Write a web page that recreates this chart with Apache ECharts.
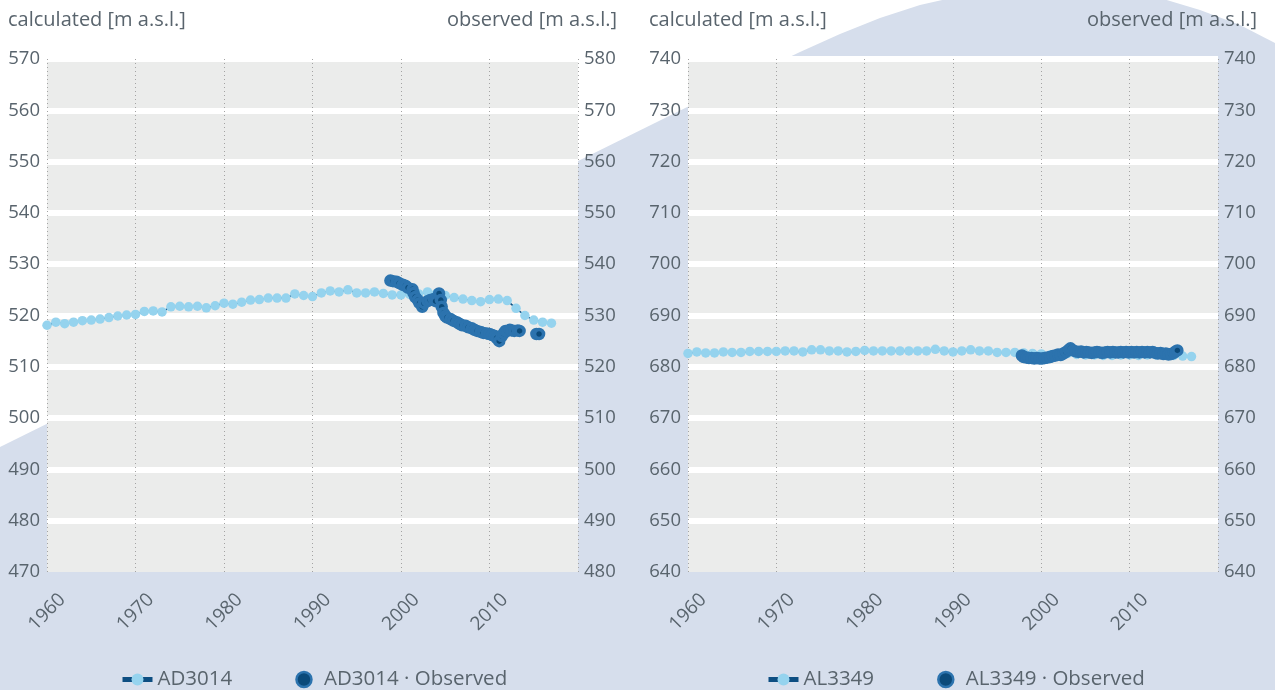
<!DOCTYPE html>
<html>
<head>
<meta charset="utf-8">
<script src="https://cdn.jsdelivr.net/npm/echarts@6/dist/echarts.min.js"></script>
<style>
  html, body { margin: 0; padding: 0; background: #ffffff; }
  #chart { width: 1275px; height: 690px; }
</style>
</head>
<body>
<div id="chart"></div>
<script>
// ---- data -------------------------------------------------------------
const yearTicks = [1960, 1970, 1980, 1990, 2000, 2010, 2020];

const calcYears = [
  1960, 1961, 1962, 1963, 1964, 1965, 1966, 1967, 1968, 1969,
  1970, 1971, 1972, 1973, 1974, 1975, 1976, 1977, 1978, 1979,
  1980, 1981, 1982, 1983, 1984, 1985, 1986, 1987, 1988, 1989,
  1990, 1991, 1992, 1993, 1994, 1995, 1996, 1997, 1998, 1999,
  2000, 2001, 2002, 2003, 2004, 2005, 2006, 2007, 2008, 2009,
  2010, 2011, 2012, 2013, 2014, 2015, 2016, 2017
];

// AD3014 – calculated head (left axis)
const ad3014Calc = [
  518.1, 518.7, 518.4, 518.7, 519.0, 519.1, 519.3, 519.6, 519.9, 520.1,
  520.2, 520.8, 520.9, 520.7, 521.7, 521.8, 521.7, 521.8, 521.5, 521.9,
  522.4, 522.2, 522.6, 523.0, 523.1, 523.4, 523.4, 523.4, 524.2, 523.9,
  523.7, 524.4, 524.8, 524.6, 525.0, 524.4, 524.4, 524.6, 524.3, 524.0,
  524.0, 524.1, 524.2, 524.6, 524.3, 523.9, 523.5, 523.2, 522.9, 522.7,
  523.1, 523.2, 522.9, 521.4, 520.0, 519.1, 518.7, 518.5
];

// AD3014 – observed head (right axis)
const ad3014ObsYears = [
  1998.8, 1999.1, 1999.5, 1999.8, 2000.2, 2000.5, 2000.8, 2001.3, 2001.4, 2001.6,
  2001.9, 2002.1, 2002.4, 2002.6, 2003.0, 2003.3, 2003.7, 2003.9, 2004.3, 2004.5,
  2004.6, 2004.8, 2005.0, 2005.2, 2005.6, 2005.9, 2006.3, 2006.6, 2006.9, 2007.3,
  2007.6, 2008.0, 2008.3, 2008.6, 2009.0, 2009.3, 2009.7, 2010.0, 2010.3, 2010.6,
  2010.8, 2011.1, 2011.4, 2011.6, 2011.8, 2012.0, 2012.3, 2012.5, 2012.8, 2013.2,
  2013.4, 2015.3, 2015.6
];
const ad3014Obs = [
  536.8, 536.7, 536.6, 536.3, 536.0, 535.8, 535.4, 535.1, 534.4, 533.6,
  533.0, 532.4, 531.7, 532.4, 532.8, 533.0, 533.2, 532.8, 534.3, 533.0,
  531.7, 530.5, 529.9, 529.6, 529.3, 529.0, 528.7, 528.4, 528.1, 528.0,
  527.7, 527.5, 527.2, 527.0, 526.8, 526.6, 526.5, 526.4, 526.2, 526.0,
  525.6, 525.0, 526.0, 526.5, 527.0, 527.0, 527.2, 527.1, 527.0, 527.1,
  527.0, 526.4, 526.4
];

// AL3349 – calculated head (left axis)
const al3349Calc = [
  682.6, 682.9, 682.7, 682.7, 682.9, 682.8, 682.8, 683.0, 683.0, 683.0,
  683.0, 683.1, 683.1, 682.9, 683.3, 683.3, 683.1, 683.1, 682.9, 683.0,
  683.2, 683.1, 683.1, 683.1, 683.1, 683.1, 683.1, 683.1, 683.4, 683.1,
  682.9, 683.1, 683.3, 683.1, 683.1, 682.8, 682.8, 682.8, 682.7, 682.6,
  682.5, 682.3, 682.4, 682.6, 682.4, 682.3, 682.3, 682.2, 682.2, 682.3,
  682.3, 682.2, 682.3, 682.3, 682.2, 682.2, 682.1, 682.0
];

// AL3349 – observed head (right axis)
const al3349ObsYears = [
  1997.8, 1998.0, 1998.3, 1998.6, 1998.9, 1999.2, 1999.5, 1999.8, 2000.1, 2000.4,
  2000.7, 2001.0, 2001.3, 2001.6, 2001.9, 2002.2, 2002.5, 2002.8, 2003.1, 2003.3,
  2003.6, 2003.9, 2004.2, 2004.5, 2004.8, 2005.1, 2005.4, 2005.7, 2006.0, 2006.3,
  2006.6, 2006.9, 2007.2, 2007.5, 2007.8, 2008.1, 2008.4, 2008.7, 2009.0, 2009.3,
  2009.6, 2009.9, 2010.2, 2010.5, 2010.8, 2011.1, 2011.4, 2011.7, 2012.0, 2012.3,
  2012.6, 2012.9, 2013.2, 2013.5, 2013.8, 2014.1, 2014.4, 2014.7, 2015.0, 2015.2,
  2015.4
];
const al3349Obs = [
  682.2, 681.9, 681.8, 681.7, 681.7, 681.6, 681.7, 681.6, 681.6, 681.7,
  681.8, 681.9, 682.1, 682.2, 682.4, 682.3, 682.6, 682.9, 683.3, 683.6,
  683.2, 683.0, 682.9, 683.0, 682.8, 682.9, 682.8, 682.7, 682.8, 682.9,
  682.8, 682.7, 682.8, 682.9, 682.8, 682.9, 682.8, 682.8, 682.9, 682.8,
  682.9, 682.8, 682.9, 682.8, 682.9, 682.8, 682.9, 682.8, 682.9, 682.8,
  682.9, 682.7, 682.6, 682.7, 682.5, 682.6, 682.4, 682.5, 682.7, 683.0,
  683.2
];

const axisTitles = ['calculated [m a.s.l.]', 'observed [m a.s.l.]'];
const wellNames = ['AD3014', 'AL3349'];
const observedSuffix = ' \u00b7 Observed';

// ---- styling ----------------------------------------------------------
const FONT = '"Open Sans", "Noto Sans", sans-serif';
const TEXT = '#59646d';
const CALC_FILL = '#95d3ee';
const CALC_LINE = '#0d4e82';
const OBS_FILL = '#0b4a7a';
const OBS_RING = '#2c73ae';
const PLOT_BG = '#ebeceb';
const BLOB = '#d6deec';

const pairs = (xs, ys) => xs.map((x, i) => [x, ys[i]]);

const panels = [
  { left: 47, width: 531, legendLeft: 120, calc: ad3014Calc, obsX: ad3014ObsYears, obs: ad3014Obs,
    yL: [470, 570], yR: [480, 580] },
  { left: 688, width: 530, legendLeft: 766, calc: al3349Calc, obsX: al3349ObsYears, obs: al3349Obs,
    yL: [640, 740], yR: [640, 740] }
];

const grid = [], xAxis = [], yAxis = [], series = [], legend = [], title = [];

panels.forEach((p, i) => {
  grid.push({
    left: p.left, width: p.width, top: 59, height: 513,
    show: true, backgroundColor: PLOT_BG, borderWidth: 0
  });
  xAxis.push({
    type: 'value', gridIndex: i, min: yearTicks[0], max: yearTicks[yearTicks.length - 1],
    interval: 10,
    axisLine: { show: false }, axisTick: { show: false },
    splitLine: { show: true, showMinLine: true, showMaxLine: true,
      lineStyle: { color: '#a3a3a3', width: 1, type: [1, 3] } },
    axisLabel: {
      rotate: 45, align: 'center', verticalAlign: 'middle', margin: 40,
      color: TEXT, fontFamily: FONT, fontSize: 19,
      formatter: v => (v < yearTicks[yearTicks.length - 1] ? String(v) : '')
    },
    z: 3
  });
  yAxis.push({
    type: 'value', gridIndex: i, position: 'left', min: p.yL[0], max: p.yL[1], interval: 10,
    axisLine: { show: false }, axisTick: { show: false },
    splitLine: { show: true, showMinLine: false, showMaxLine: true,
      lineStyle: { color: '#ffffff', width: 6 } },
    axisLabel: { color: TEXT, fontFamily: FONT, fontSize: 18.5, margin: 7 },
    z: 2
  });
  yAxis.push({
    type: 'value', gridIndex: i, position: 'right', min: p.yR[0], max: p.yR[1], interval: 10,
    axisLine: { show: false }, axisTick: { show: false }, splitLine: { show: false },
    axisLabel: { color: TEXT, fontFamily: FONT, fontSize: 18.5, margin: 6 }
  });

  const name = wellNames[i];
  series.push({
    name: name, type: 'line', xAxisIndex: i, yAxisIndex: i * 2,
    data: pairs(calcYears, p.calc),
    symbol: 'circle', symbolSize: 9.5, showSymbol: true,
    lineStyle: { color: CALC_LINE, width: 1.5 },
    itemStyle: { color: CALC_FILL, borderWidth: 0 },
    z: 4
  });
  series.push({
    name: name + observedSuffix, type: 'scatter', xAxisIndex: i, yAxisIndex: i * 2 + 1,
    data: pairs(p.obsX, p.obs),
    symbol: 'circle', symbolSize: 9,
    itemStyle: { color: OBS_FILL, borderColor: OBS_RING, borderWidth: 3.5, opacity: 1 },
    z: 5
  });

  legend.push({
    left: p.legendLeft, top: 669, itemGap: 63, itemWidth: 30, itemHeight: 15,
    padding: 0,
    textStyle: { color: TEXT, fontFamily: FONT, fontSize: 20.5 },
    data: [
      { name: name,
        itemStyle: { color: CALC_FILL },
        lineStyle: { color: CALC_LINE, width: 5 } },
      { name: name + observedSuffix,
        itemStyle: { color: OBS_FILL, borderColor: OBS_RING, borderWidth: 2.5 } }
    ]
  });

  title.push({
    text: axisTitles[0], left: p.left - 39, top: 10, padding: 0,
    textStyle: { color: TEXT, fontFamily: FONT, fontSize: 20, fontWeight: 'normal' }
  });
  title.push({
    text: axisTitles[1], right: 1275 - (p.left + p.width + 39), top: 10, padding: 0,
    textStyle: { color: TEXT, fontFamily: FONT, fontSize: 20, fontWeight: 'normal' }
  });
});

// decorative backdrop shape behind both panels
const backdrop = [
  [-10, 452], [760, 71], [800, 52], [840, 34], [880, 18], [920, 5], [960, -4],
  [1000, -10], [1040, -13], [1080, -13], [1120, -9], [1160, -2], [1200, 10],
  [1240, 25], [1275, 43], [1300, 58], [1300, 700], [-10, 700]
];

const chart = echarts.init(document.getElementById('chart'), null, { renderer: 'canvas' });
chart.setOption({
  animation: false,
  backgroundColor: '#ffffff',
  title: title,
  grid: grid,
  xAxis: xAxis,
  yAxis: yAxis,
  legend: legend,
  series: series,
  graphic: [{
    type: 'polygon', z: -10, silent: true,
    shape: { points: backdrop },
    style: { fill: BLOB }
  }]
});
</script>
</body>
</html>
